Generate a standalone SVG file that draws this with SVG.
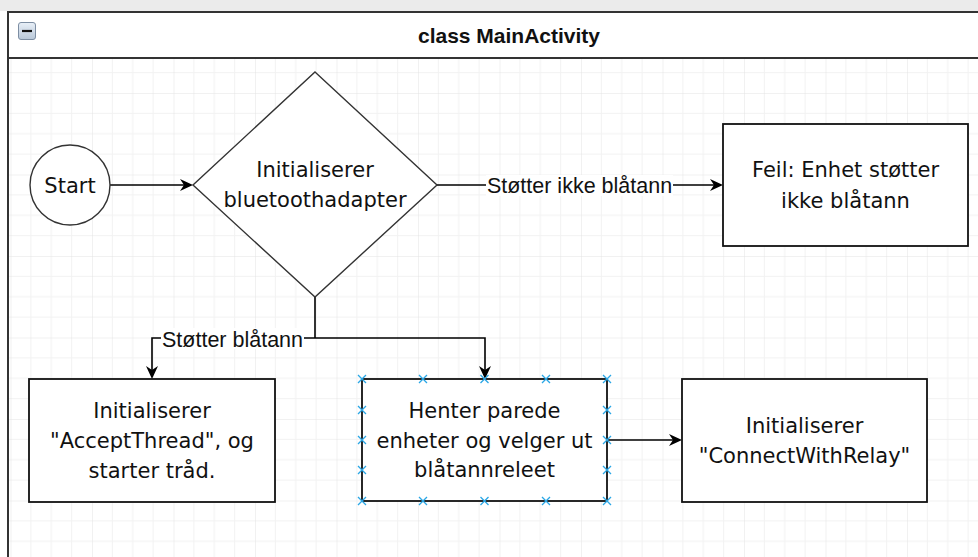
<svg xmlns="http://www.w3.org/2000/svg" width="978" height="557" viewBox="0 0 978 557">
  <defs>
    <style>
      .frame { fill: none; stroke: #333; stroke-width: 2; }
      .node { fill: #fff; stroke: #111; stroke-width: 1.8; }
      .shape { fill: #fff; stroke: #333; stroke-width: 1.4; }
      .txt { font-family: "DejaVu Sans", "Liberation Sans", sans-serif; font-size: 21px; fill: #111; text-anchor: middle; }
      .lbl { font-family: "Liberation Sans", Arial, sans-serif; font-size: 21.5px; fill: #111; text-anchor: middle; }
      .title { font-family: "Liberation Sans", Arial, sans-serif; font-size: 21px; font-weight: bold; fill: #111; text-anchor: middle; }
      .edge { fill: none; stroke: #000; stroke-width: 1.6; marker-end: url(#arrow); }
      .edge-plain { fill: none; stroke: #000; stroke-width: 1.6; }
      .cp { stroke: #2aa7e6; stroke-width: 1.3; fill: none; }
    </style>
    <pattern id="grid" patternUnits="userSpaceOnUse" x="10.5" y="11.5" width="81.5" height="81.5">
      <path d="M20.375,0 V81.5 M40.75,0 V81.5 M61.125,0 V81.5 M0,20.375 H81.5 M0,40.75 H81.5 M0,61.125 H81.5" stroke="#f2f2f2" stroke-width="1"/>
      <path d="M0,0 V81.5 M0,0 H81.5" stroke="#e3e3e3" stroke-width="1"/>
    </pattern>
    <linearGradient id="btn" x1="0" y1="0" x2="0" y2="1">
      <stop offset="0" stop-color="#e9f0f8"/>
      <stop offset="1" stop-color="#b8c7d8"/>
    </linearGradient>
    <marker id="arrow" markerUnits="userSpaceOnUse" markerWidth="16" markerHeight="14" viewBox="-12 -7 16 14" refX="0" refY="0" orient="auto">
      <path d="M3,0 L-10,-6 L-6,0 L-10,6 Z" fill="#000"/>
    </marker>
  </defs>

  <!-- canvas -->
  <rect x="0" y="0" width="978" height="557" fill="#fff"/>
  <rect x="0" y="0" width="978" height="11" fill="#ebebeb"/>
  <rect x="8" y="12" width="970" height="545" fill="url(#grid)"/>

  <!-- container: class MainActivity -->
  <g id="class-mainactivity">
    <rect x="8" y="12" width="1010" height="46" fill="#fff"/>
    <path class="frame" d="M8,560 V12 H980 M8,58 H980"/>
    <rect x="18.5" y="22.5" width="17" height="17" rx="2.5" fill="url(#btn)" stroke="#7d8ea3" stroke-width="1"/>
    <path d="M22,31 H32" stroke="#111" stroke-width="2.2"/>
    <text class="title" x="509" y="42.5">class MainActivity</text>
  </g>

  <!-- connectors -->
  <g id="connectors">
    <path class="edge" d="M110,185 H190"/>
    <path class="edge" d="M437,185 H720"/>
    <rect x="486" y="175" width="187" height="21" fill="#fff"/>
    <text class="lbl" x="579.5" y="193">Støtter ikke blåtann</text>
    <path class="edge-plain" d="M315,297 V338"/>
    <path class="edge" d="M315,338 H152 V376"/>
    <path class="edge" d="M315,338 H485 V376"/>
    <rect x="161" y="328" width="143" height="21" fill="#fff"/>
    <text class="lbl" x="232.5" y="347">Støtter blåtann</text>
    <path class="edge" d="M607,440 H679"/>
  </g>

  <!-- nodes -->
  <g id="start">
    <circle class="shape" cx="70" cy="185" r="40"/>
    <text class="txt" x="70" y="193">Start</text>
  </g>

  <g id="init-adapter">
    <path class="shape" d="M315,72 L437,185 L315,297 L193,185 Z"/>
    <text class="txt" x="315" y="177">Initialiserer</text>
    <text class="txt" x="315" y="207">bluetoothadapter</text>
  </g>

  <g id="error-no-bluetooth">
    <rect class="node" x="723" y="124" width="245" height="122"/>
    <text class="txt" x="845.5" y="177">Feil: Enhet støtter</text>
    <text class="txt" x="845.5" y="208">ikke blåtann</text>
  </g>

  <g id="accept-thread">
    <rect class="node" x="29" y="379" width="246" height="123"/>
    <text class="txt" x="152" y="418">Initialiserer</text>
    <text class="txt" x="152" y="448">"AcceptThread", og</text>
    <text class="txt" x="152" y="478">starter tråd.</text>
  </g>

  <g id="paired-devices">
    <rect class="node" x="362" y="379" width="245" height="122"/>
    <text class="txt" x="484.5" y="418">Henter parede</text>
    <text class="txt" x="484.5" y="448">enheter og velger ut</text>
    <text class="txt" x="484.5" y="477">blåtannreleet</text>
    <!-- connection points of the selected shape -->
    <path class="cp" d="
      M358,375 l8,8 m0,-8 l-8,8
      M419,375 l8,8 m0,-8 l-8,8
      M480.5,375 l8,8 m0,-8 l-8,8
      M542,375 l8,8 m0,-8 l-8,8
      M603,375 l8,8 m0,-8 l-8,8
      M358,497 l8,8 m0,-8 l-8,8
      M419,497 l8,8 m0,-8 l-8,8
      M480.5,497 l8,8 m0,-8 l-8,8
      M542,497 l8,8 m0,-8 l-8,8
      M603,497 l8,8 m0,-8 l-8,8
      M358,406 l8,8 m0,-8 l-8,8
      M358,436 l8,8 m0,-8 l-8,8
      M358,466 l8,8 m0,-8 l-8,8
      M603,406 l8,8 m0,-8 l-8,8
      M603,436 l8,8 m0,-8 l-8,8
      M603,466 l8,8 m0,-8 l-8,8"/>
  </g>

  <g id="connect-with-relay">
    <rect class="node" x="682" y="379" width="245" height="123"/>
    <text class="txt" x="804.5" y="433">Initialiserer</text>
    <text class="txt" x="804.5" y="463">"ConnectWithRelay"</text>
  </g>
</svg>
